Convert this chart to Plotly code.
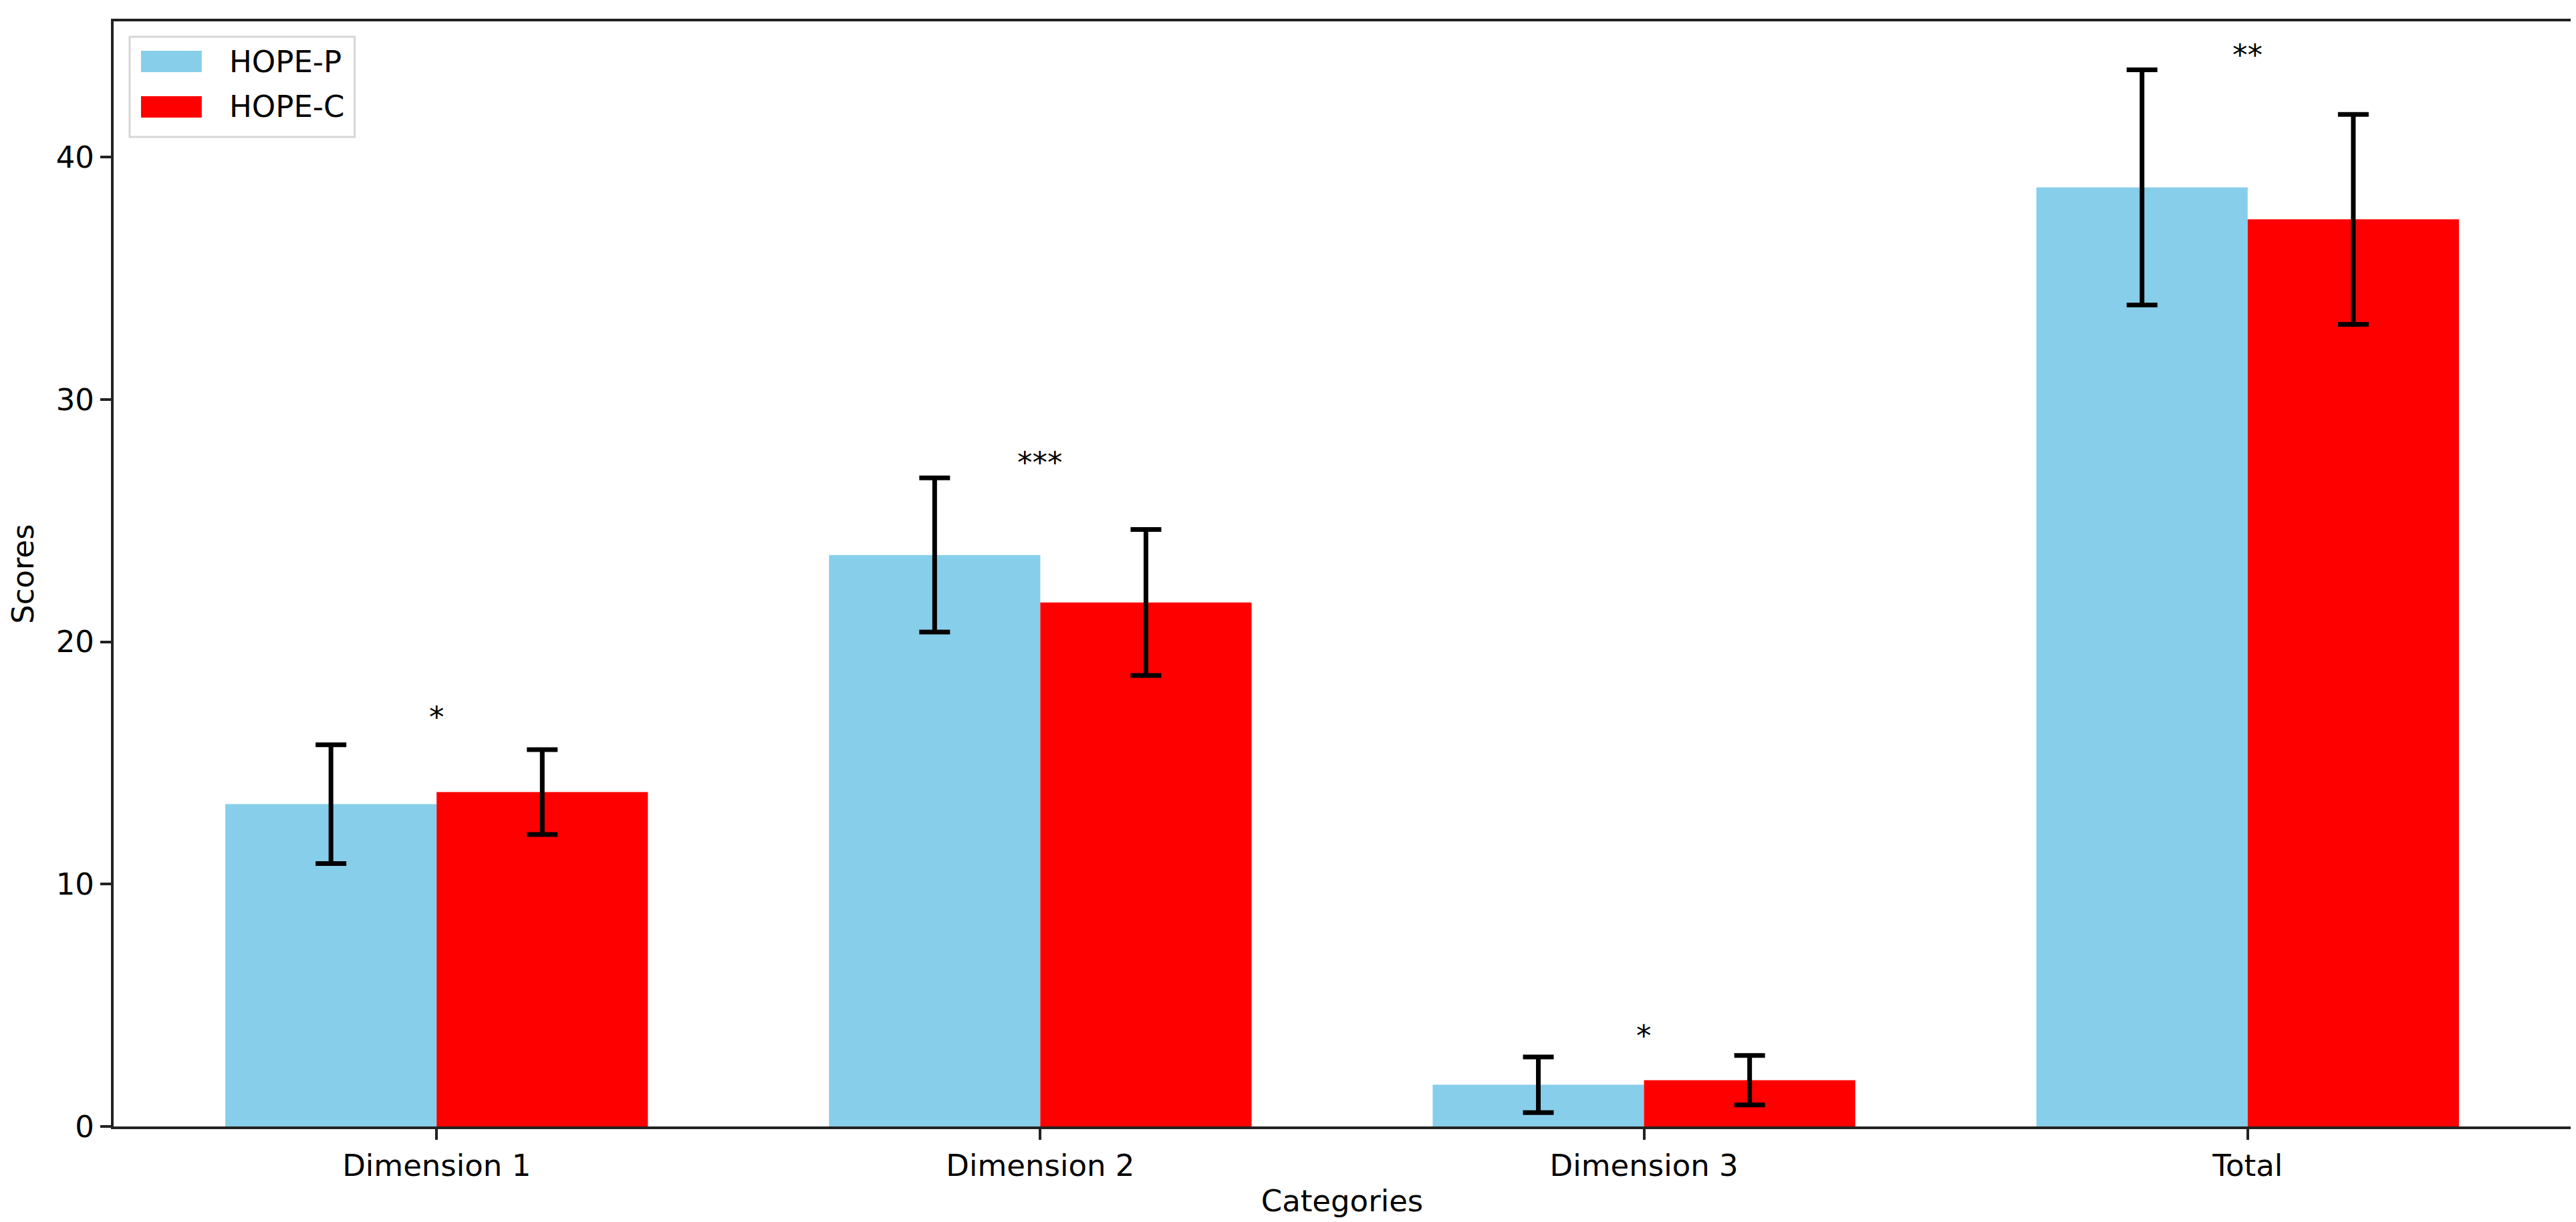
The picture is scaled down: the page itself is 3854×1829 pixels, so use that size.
import plotly.graph_objects as go

categories = ["Dimension 1", "Dimension 2", "Dimension 3", "Total"]
series_names = ["HOPE-P", "HOPE-C"]
series_colors = ["#87CEEB", "#FF0000"]
hope_p_mean = [13.3, 23.58, 1.72, 38.75]
hope_p_sd = [2.45, 3.18, 1.15, 4.85]
hope_c_mean = [13.8, 21.62, 1.91, 37.43]
hope_c_sd = [1.75, 3.01, 1.02, 4.33]
sig_labels = ["*", "***", "*", "**"]
sig_y = [16.9, 27.4, 3.73, 44.2]
y_ticks = [0, 10, 20, 30, 40]

FONT = "DejaVu Sans"
FS = 45
W, H = 3854, 1829
# plot area in pixels (matches reference frame)
L, R, T, B = 162, 12, 24, 151
PW, PH = W - L - R, H - T - B

def px_x(p):
    return (p - L) / PW

def px_y(p):
    return (H - B - p) / PH

fig = go.Figure()
for name, color, mean, sd in zip(series_names, series_colors,
                                 [hope_p_mean, hope_c_mean], [hope_p_sd, hope_c_sd]):
    fig.add_trace(go.Bar(
        x=categories, y=mean, name=name,
        marker=dict(color=color, line=dict(width=0)),
        error_y=dict(type="data", array=sd, visible=True,
                     color="black", thickness=7, width=23),
        showlegend=False,
    ))

for cat, lab, yy in zip(categories, sig_labels, sig_y):
    fig.add_annotation(x=cat, y=yy, text=lab, showarrow=False,
                       xref="x", yref="y", yanchor="middle", yshift=0,
                       font=dict(family=FONT, size=FS, color="black"))

# legend box (matplotlib-style, drawn in paper coordinates)
fig.add_shape(type="rect", xref="paper", yref="paper",
              x0=px_x(186), x1=px_x(523), y0=px_y(197), y1=px_y(47),
              line=dict(color="#d6d6d6", width=3), fillcolor="rgba(255,255,255,0.8)",
              layer="above")
row_centers = [84, 152]
for name, color, rc in zip(series_names, series_colors, row_centers):
    fig.add_shape(type="rect", xref="paper", yref="paper",
                  x0=px_x(203), x1=px_x(294), y0=px_y(rc + 16), y1=px_y(rc - 16),
                  line=dict(width=0), fillcolor=color, layer="above")
    fig.add_annotation(x=px_x(333), y=px_y(rc), xref="paper", yref="paper",
                       text=name, showarrow=False, xanchor="left", yanchor="middle",
                       font=dict(family=FONT, size=FS, color="black"))

fig.update_layout(
    width=W, height=H, autosize=False,
    paper_bgcolor="white", plot_bgcolor="white",
    barmode="group", bargap=0.3, bargroupgap=0,
    margin=dict(l=L, r=R, t=T, b=B, pad=0),
    font=dict(family=FONT, size=FS, color="black"),
    showlegend=False,
)
fig.update_xaxes(
    type="category", range=[-0.535, 3.535],
    showline=True, mirror=True, linecolor="#222222", linewidth=4,
    ticks="outside", ticklen=16, tickwidth=3.5, tickcolor="#222222",
    showgrid=False, zeroline=False,
    tickfont=dict(family=FONT, size=FS, color="black"),
    title=dict(text="Categories", font=dict(family=FONT, size=FS, color="black"), standoff=12),
)
fig.update_yaxes(
    range=[0, 45.6], tickvals=y_ticks,
    showline=True, mirror=True, linecolor="#222222", linewidth=4,
    ticks="outside", ticklen=16, tickwidth=3.5, tickcolor="#222222",
    showgrid=False, zeroline=False,
    tickfont=dict(family=FONT, size=FS, color="black"),
    title=dict(text="Scores", font=dict(family=FONT, size=FS, color="black"), standoff=28),
)

fig.write_html("out.html")
